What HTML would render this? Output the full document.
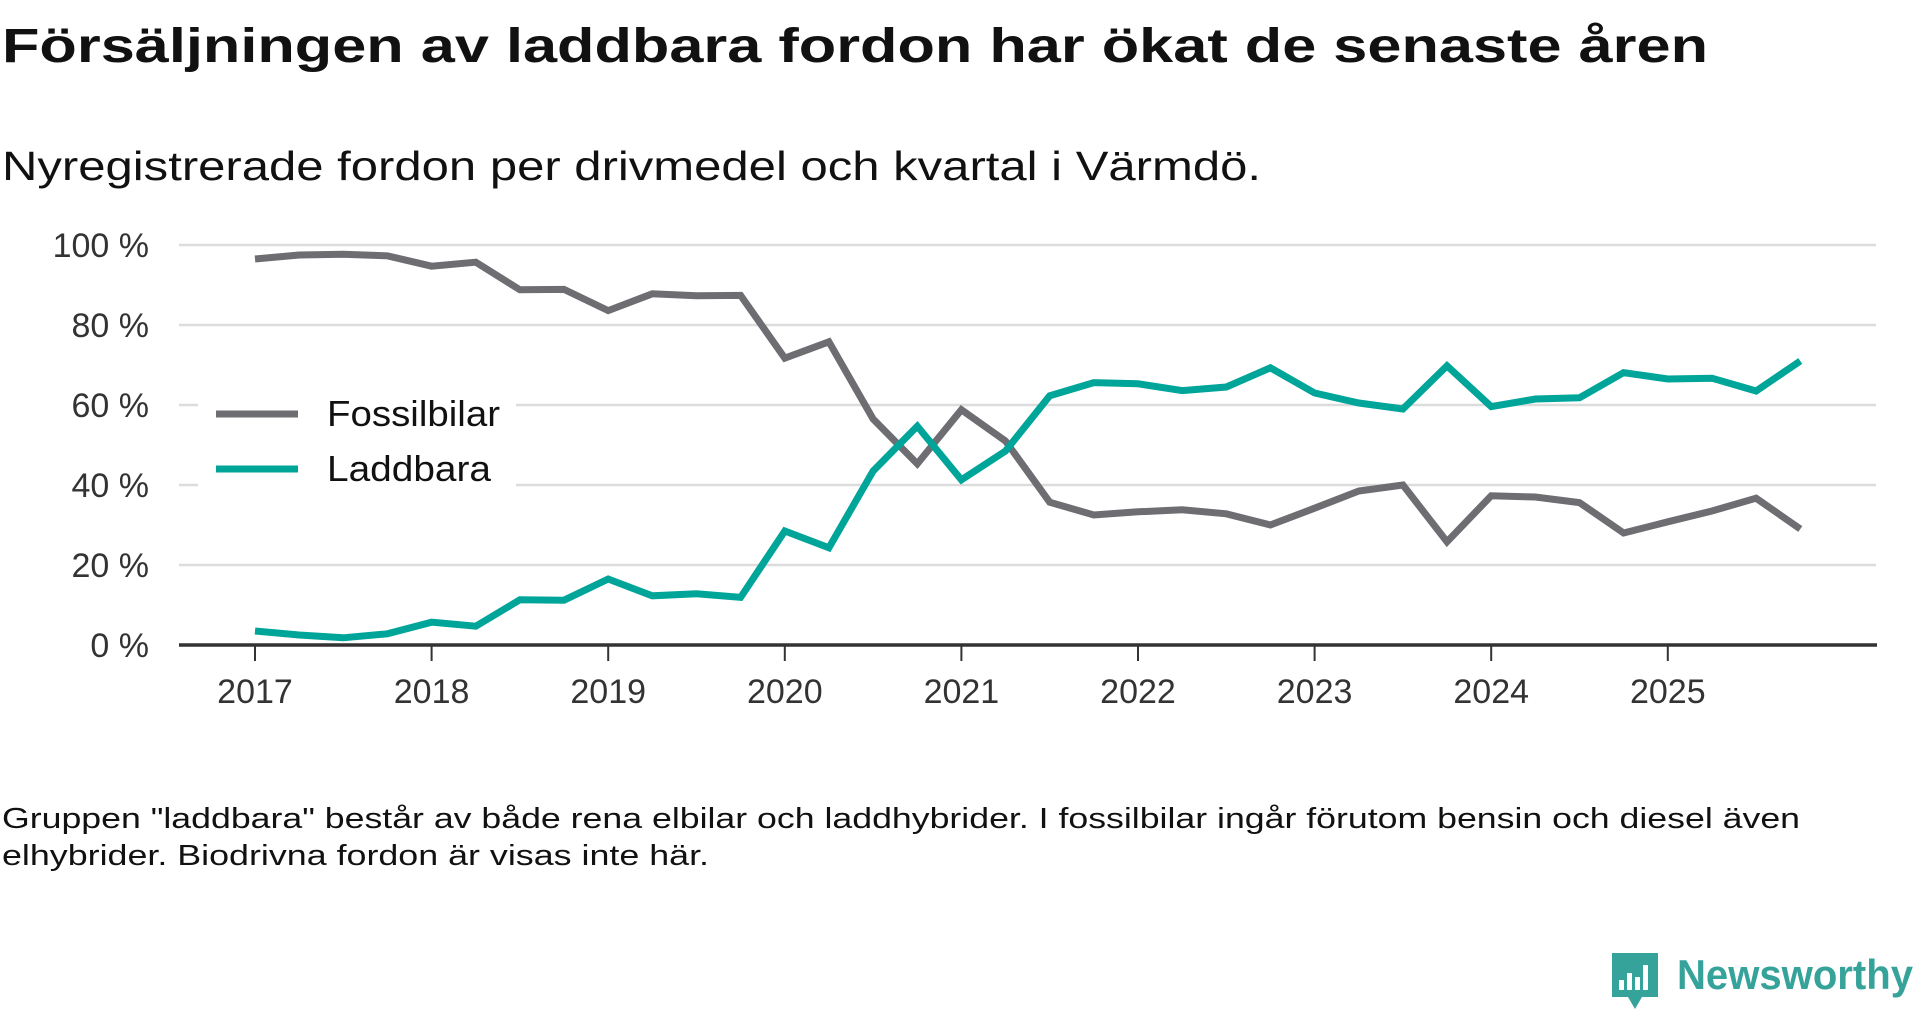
<!DOCTYPE html>
<html><head><meta charset="utf-8">
<style>
html,body{margin:0;padding:0;background:#fff;}
svg{display:block;font-family:"Liberation Sans","DejaVu Sans",sans-serif;}
</style></head>
<body>
<svg id="chart" width="1920" height="1010" viewBox="0 0 1920 1010" xmlns="http://www.w3.org/2000/svg">
<text x="2" y="62" font-size="48" font-weight="bold" fill="#111" textLength="1706" lengthAdjust="spacingAndGlyphs">Försäljningen av laddbara fordon har ökat de senaste åren</text>
<text x="2" y="180" font-size="41" fill="#111" textLength="1259" lengthAdjust="spacingAndGlyphs">Nyregistrerade fordon per drivmedel och kvartal i Värmdö.</text>
<g id="grid"></g>
<g id="yticks"></g>
<g id="xticks"></g>
<g id="lines"></g>
<g>
<rect x="198" y="388" width="318" height="100" fill="#fff"/>
<line x1="216" y1="414" x2="298" y2="414" stroke="#6d6d72" stroke-width="7"/>
<text x="327" y="426" font-size="36" fill="#111" textLength="173" lengthAdjust="spacingAndGlyphs">Fossilbilar</text>
<line x1="216" y1="469" x2="298" y2="469" stroke="#00a59a" stroke-width="7"/>
<text x="327" y="481" font-size="36" fill="#111" textLength="164" lengthAdjust="spacingAndGlyphs">Laddbara</text>
</g>
<text x="2" y="828" font-size="29" fill="#111" textLength="1798" lengthAdjust="spacingAndGlyphs">Gruppen "laddbara" består av både rena elbilar och laddhybrider. I fossilbilar ingår förutom bensin och diesel även</text>
<text x="2" y="865" font-size="29" fill="#111" textLength="707" lengthAdjust="spacingAndGlyphs">elhybrider. Biodrivna fordon är visas inte här.</text>
<g>
<path d="M1612 953 h46 v44 h-16 l-7 12 l-7 -12 h-16 z" fill="#35a39a"/>
<rect x="1619" y="980" width="5" height="10" fill="#fff"/>
<rect x="1627" y="973" width="5" height="17" fill="#fff"/>
<rect x="1635" y="977" width="5" height="13" fill="#fff"/>
<rect x="1643" y="965" width="5" height="25" fill="#fff"/>
<text x="1677" y="989" font-size="42" font-weight="bold" fill="#35a39a" textLength="236" lengthAdjust="spacingAndGlyphs">Newsworthy</text>
</g>
</svg>
<script>
const quarters = ["2017Q1","2017Q2","2017Q3","2017Q4","2018Q1","2018Q2","2018Q3","2018Q4","2019Q1","2019Q2","2019Q3","2019Q4","2020Q1","2020Q2","2020Q3","2020Q4","2021Q1","2021Q2","2021Q3","2021Q4","2022Q1","2022Q2","2022Q3","2022Q4","2023Q1","2023Q2","2023Q3","2023Q4","2024Q1","2024Q2","2024Q3","2024Q4","2025Q1","2025Q2","2025Q3","2025Q4"];
const fossil = [96.5,97.5,97.7,97.3,94.7,95.7,88.8,88.9,83.6,87.8,87.3,87.4,71.7,75.8,56.5,45.3,58.8,51,35.7,32.5,33.3,33.8,32.8,30,34.2,38.5,40,25.8,37.3,37,35.6,28,30.8,33.5,36.7,29];
const laddbara = [3.5,2.5,1.8,2.8,5.7,4.7,11.3,11.2,16.5,12.3,12.8,11.9,28.5,24.3,43.5,54.7,41.3,48.5,62.3,65.6,65.3,63.6,64.5,69.3,63,60.5,59,69.8,59.6,61.5,61.8,68.1,66.5,66.7,63.5,71];
const yTicks = [0,20,40,60,80,100];
const xTickYears = [2017,2018,2019,2020,2021,2022,2023,2024,2025];

const NS = "http://www.w3.org/2000/svg";
const X0 = 255, YEARW = 176.6, Y0 = 645, Y100 = 245;
function xq(i){ return X0 + i * YEARW / 4; }
function xy(year){ return X0 + (year - 2017) * YEARW; }
function y(v){ return Y0 - (v / 100) * (Y0 - Y100); }
function mk(tag, attrs, parent){ const e = document.createElementNS(NS, tag); for (const k in attrs) e.setAttribute(k, attrs[k]); parent.appendChild(e); return e; }

const grid = document.getElementById('grid');
const yt = document.getElementById('yticks');
yTicks.forEach(v => {
  if (v > 0) {
    const g = mk('line', {x1:179, x2:1876, y1:y(v), y2:y(v), stroke:'#dcdcdc', 'stroke-width':2.5}, grid);
    
    
  }
  const t = mk('text', {x:149, y:y(v) + 12, 'font-size':34, fill:'#333', 'text-anchor':'end'}, yt);
  t.textContent = v + ' %';
  
  
});
const xt = document.getElementById('xticks');
const ax = mk('line', {x1:179, x2:1877, y1:Y0, y2:Y0, stroke:'#333', 'stroke-width':3.5}, xt);


xTickYears.forEach(yr => {
  const tk = mk('line', {x1:xy(yr), x2:xy(yr), y1:Y0, y2:Y0 + 16, stroke:'#333', 'stroke-width':2}, xt);
  
  
  const t = mk('text', {x:xy(yr), y:703, 'font-size':34, fill:'#333', 'text-anchor':'middle'}, xt);
  t.textContent = yr;
  
  
});
const lines = document.getElementById('lines');
function series(vals, color, name){
  const d = vals.map((v, i) => (i ? 'L' : 'M') + xq(i).toFixed(1) + ' ' + y(v).toFixed(1)).join(' ');
  const p = mk('path', {d:d, fill:'none', stroke:color, 'stroke-width':7, 'stroke-linejoin':'miter'}, lines);
  
  
}
series(fossil, '#6d6d72', 'fossilbilar-line');
series(laddbara, '#00a59a', 'laddbara-line');
</script>
</body></html>
